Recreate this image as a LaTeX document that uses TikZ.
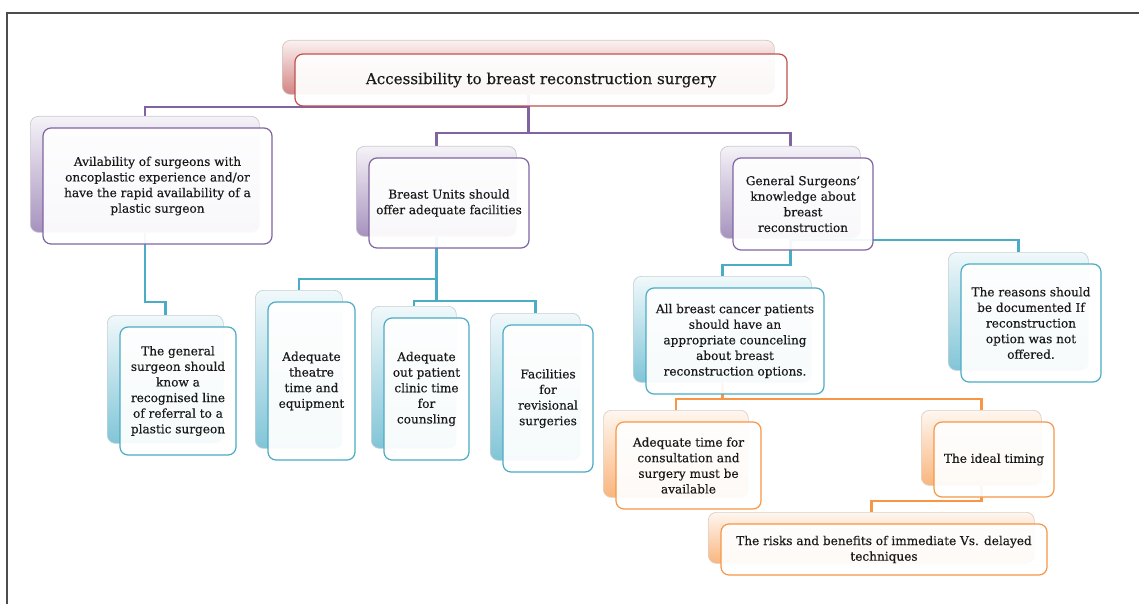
\documentclass[tikz,border=0pt]{standalone}
\usepackage{fontspec}
\usetikzlibrary{backgrounds}
\setmainfont{DejaVu Serif}
\newfontfamily\bxfam{DejaVu Serif}[FakeBold=0.35,Ligatures=TeX]
\definecolor{cpur}{HTML}{8064A2}
\definecolor{ctea}{HTML}{4BACC6}
\definecolor{cora}{HTML}{F79646}
\definecolor{crd}{HTML}{C0504D}
\definecolor{txt}{HTML}{1A1A1A}
\newcommand\bxfont{\bxfam\fontsize{12.1}{15.6}\selectfont}
\newcommand\topfont{\bxfam\fontsize{15.1}{17}\selectfont}
\tikzset{
  bk/.style={rounded corners=8pt, draw=#1!35!gray!40, line width=0.7pt,
    top color=#1!8!white, bottom color=#1!70!white,
    anchor=north west, inner sep=0pt},
  fr/.style={rounded corners=8pt, draw=#1, line width=1.2pt,
    fill=white, fill opacity=0.93, text opacity=1, text=txt,
    anchor=center, align=center, inner sep=0pt, font=\bxfont},
  cn/.style={draw=#1, line width=2.3pt},
}
% \pair{name}{x}{y}{w}{h}{colour}{text}
\newcommand\pair[7]{%
  \node[bk=#6, minimum width=#4pt, minimum height=#5pt] (#1B) at (#2,#3) {};
  \node[fr=#6, minimum width=#4pt, minimum height=#5pt] (#1) at (#2+13+#4/2,#3+12+#5/2) {#7};
}
\begin{document}
\begin{tikzpicture}[x=1pt,y=-1pt]
\useasboundingbox (0,0) rectangle (1139,604);
% boxes
\node[bk=crd, minimum width=492pt, minimum height=54pt] (topB) at (282,40) {};
\node[fr=crd, minimum width=492pt, minimum height=52pt, font=\topfont] (top) at (295+246,53+27) {Accessibility to breast reconstruction surgery};
\pair{av}{30}{116}{229}{116}{cpur}{Avilability of surgeons with\\oncoplastic experience and/or\\have the rapid availability of a\\plastic surgeon}
\pair{bu}{356}{146}{160}{90}{cpur}{Breast Units should\\offer adequate facilities}
\pair{gs}{720}{146}{140}{92}{cpur}{General Surgeons’\\knowledge about\\breast\\reconstruction}
\pair{gsu}{107}{315}{116}{128}{ctea}{The general\\surgeon should\\know a\\recognised line\\of referral to a\\plastic surgeon}
\pair{th}{255}{290}{87}{158}{ctea}{Adequate\\theatre\\time and\\equipment}
\pair{op}{371}{306}{85}{142}{ctea}{Adequate\\out patient\\clinic time\\for\\counsling}
\pair{fa}{490}{313}{90}{147}{ctea}{Facilities\\for\\revisional\\surgeries}
\pair{ab}{633}{276}{178}{106}{ctea}{All breast cancer patients\\should have an\\appropriate counceling\\about breast\\reconstruction options.}
\pair{re}{948}{252}{140}{118}{ctea}{The reasons should\\be documented If\\reconstruction\\option was not\\offered.}
\pair{at}{603}{410}{145}{87}{cora}{Adequate time for\\consultation and\\surgery must be\\available}
\pair{it}{921}{410}{120}{75}{cora}{The ideal timing}
\pair{ri}{708}{512}{326}{51}{cora}{The risks and benefits of immediate Vs. delayed\\techniques}
% elbow levels
\coordinate (y107) at (0,107);
\coordinate (y133) at (0,133);
\coordinate (y302) at (0,302);
\coordinate (y279) at (0,279);
\coordinate (y301) at (0,301);
\coordinate (y240) at (0,240);
\coordinate (y265) at (0,265);
\coordinate (y399) at (0,399);
\coordinate (y501) at (0,501);
\begin{scope}[on background layer]
\fill[white] (0,0) rectangle (1139,604);
\draw[cn=cpur] (topB.south) -- (topB.south |- y133) -| (buB.north);
\draw[cn=cpur] (topB.south |- y133) -| (gsB.north);
\draw[cn=cpur] (topB.south |- y107) -| (avB.north);
\draw[cn=ctea] (avB.south) -- (avB.south |- y302) -| (gsuB.north);
\draw[cn=ctea] (buB.south) -- (buB.south |- y301) -| (faB.north);
\draw[cn=ctea] (buB.south |- y301) -| (opB.north);
\draw[cn=ctea] (buB.south |- y279) -| (thB.north);
\draw[cn=ctea] (gsB.south) -- (gsB.south |- y265) -| (abB.north);
\draw[cn=ctea] (gsB.south |- y240) -| (reB.north);
\draw[cn=cora] (abB.south) -- (abB.south |- y399) -| (atB.north);
\draw[cn=cora] (abB.south |- y399) -| (itB.north);
\draw[cn=cora] (itB.south) -- (itB.south |- y501) -| (riB.north);
\end{scope}
\draw[line width=2pt, black!70] (7,604) -- (7,13) -- (1139,13);
\end{tikzpicture}
\end{document}
